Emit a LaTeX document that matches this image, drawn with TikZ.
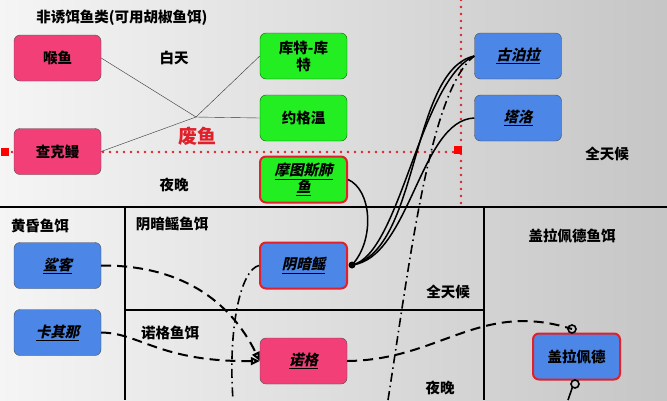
\documentclass[tikz,border=0pt]{standalone}
\usepackage{fontspec}
\setmainfont{Noto Sans CJK SC}
\newfontfamily\slfont{Noto Sans CJK SC}[FakeSlant=0.22,BoldFeatures={FakeSlant=0.22}]
\usetikzlibrary{arrows.meta}
\definecolor{pk}{HTML}{F23F78}
\definecolor{gr}{HTML}{22EE22}
\definecolor{bl}{HTML}{4C86E6}
\definecolor{rb}{HTML}{E0202A}
\newcommand{\ul}[1]{\slfont\bfseries\underline{#1}}
\begin{document}
\begin{tikzpicture}[x=1pt,y=-1pt,
  box/.style={rounded corners=6pt,minimum width=87pt,minimum height=46pt,inner sep=1pt,align=center,font=\fontsize{14.5}{17}\selectfont\bfseries,text width=82pt},
  pinkbox/.style={box,fill=pk,draw=black!70},
  greenbox/.style={box,fill=gr,draw=black!60!green},
  bluebox/.style={box,fill=bl,draw=black!70},
  lbl/.style={font=\fontsize{14.5}{17}\selectfont\bfseries},
  reddot/.style={draw=rb,line width=2.6pt,dash pattern=on 0pt off 7pt,line cap=round},
  sol/.style={line width=1.5pt},
  dd/.style={line width=1.6pt,dash pattern=on 9pt off 4pt on 1.5pt off 4pt},
  ds/.style={line width=2pt,dash pattern=on 10pt off 6pt}]
\useasboundingbox (0,0) rectangle (667,400);
\shade[left color=gray!8,right color=gray!45] (0,0) rectangle (667,400);
% grid lines
\draw[line width=1.6pt] (0,207) -- (667,207);
\draw[line width=1.3pt] (125,207) -- (125,400);
\draw[line width=1.6pt] (484,207) -- (484,400);
\draw[line width=1.3pt] (125,310) -- (484,310);
% red dotted guides
\draw[reddot] (5,152) -- (458,152);
\draw[reddot] (461,0) -- (461,205);
\fill[red] (1,148) rectangle (9,156);
\fill[red] (454,146) rectangle (462,154);
% labels
\node[lbl] (t1) at (122,18) {非诱饵鱼类(可用胡椒鱼饵)};
\node[lbl] (bt) at (174,58) {白天};
\node[lbl] (yw) at (174,185) {夜晚};
\node[font=\fontsize{19}{22}\selectfont\bfseries,text=rb] (fy) at (197,136) {废鱼};
\node[lbl] (qt1) at (607,154) {全天候};
\node[lbl] (l1) at (40,226) {黄昏鱼饵};
\node[lbl] (l2) at (172,224) {阴暗鳐鱼饵};
\node[lbl] (l3) at (572,236) {盖拉佩德鱼饵};
\node[lbl] (qt2) at (448,292) {全天候};
\node[lbl] (l4) at (170,333) {诺格鱼饵};
\node[lbl] (yw2) at (440,388) {夜晚};
% nodes
\node[pinkbox] (hy) at (57.5,58) {喉鱼};
\node[pinkbox] (ck) at (57.5,151.5) {查克鳗};
\node[greenbox] (kt) at (303.5,56) {库特-库\\特};
\node[greenbox] (yg) at (303.5,118) {约格温};
\node[greenbox,draw=rb,line width=2pt] (mt) at (303.5,179.5) {\ul{摩图斯肺}\\\ul{鱼}};
\node[bluebox] (gb) at (518,56) {\ul{古泊拉}};
\node[bluebox] (tl) at (518,118) {\ul{塔洛}};
\node[bluebox] (sk) at (57.5,265.5) {\ul{鲨客}};
\node[bluebox] (kq) at (57.5,332.5) {\ul{卡其那}};
\node[bluebox,draw=rb,line width=2pt] (ya) at (303.5,265.5) {\ul{阴暗鳐}};
\node[pinkbox] (ng) at (303.5,361) {\ul{诺格}};
\node[bluebox,draw=rb,line width=2pt] (gl) at (576.5,356.5) {盖拉佩德};
% junction lines
\coordinate (j) at (196,117);
\draw[black!80] (hy.east) -- (j) -- (kt.west);
\draw[black!80] (ck.east) -- (j) -- (yg.west);
% solid curves
\coordinate (d) at (352,265);
\fill (d) circle (3.5pt);
\draw[sol] (mt.east) .. controls (372,190) and (375,240) .. (d);
\draw[sol] (d) .. controls (420,250) and (410,70) .. (gb.west);
\draw[sol] (d) .. controls (400,255) and (420,80) .. (gb.west);
\draw[sol] (d) .. controls (410,258) and (420,120) .. (tl.west);
% dash-dot
\coordinate (b1) at (388,400);
\draw[dd] (b1) .. controls (410,260) and (430,90) .. (gb.west);
\coordinate (b2) at (233,400);
\draw[dd] (ya.west) .. controls (240,270) and (228,330) .. (b2);
% dashed arrows
\draw[ds,-{Triangle[open,length=9pt,width=8pt]}] (sk.east) .. controls (180,265) and (230,300) .. (ng.west);
\draw[ds,-{Triangle[open,length=9pt,width=8pt]}] (kq.east) .. controls (140,333) and (160,362) .. (ng.west);
\coordinate (c1) at (572,329);
\coordinate (c2) at (575,384);
\coordinate (c3) at (568,400);
\draw[ds] (ng.east) .. controls (440,360) and (480,300) .. (c1);
\draw[line width=1.6pt] (c1) circle (4pt);
\draw[line width=1.6pt] (c2) circle (4pt);
\draw[line width=1.6pt] (c2) ++(-2.5,3) -- (c3);
\end{tikzpicture}
\end{document}
